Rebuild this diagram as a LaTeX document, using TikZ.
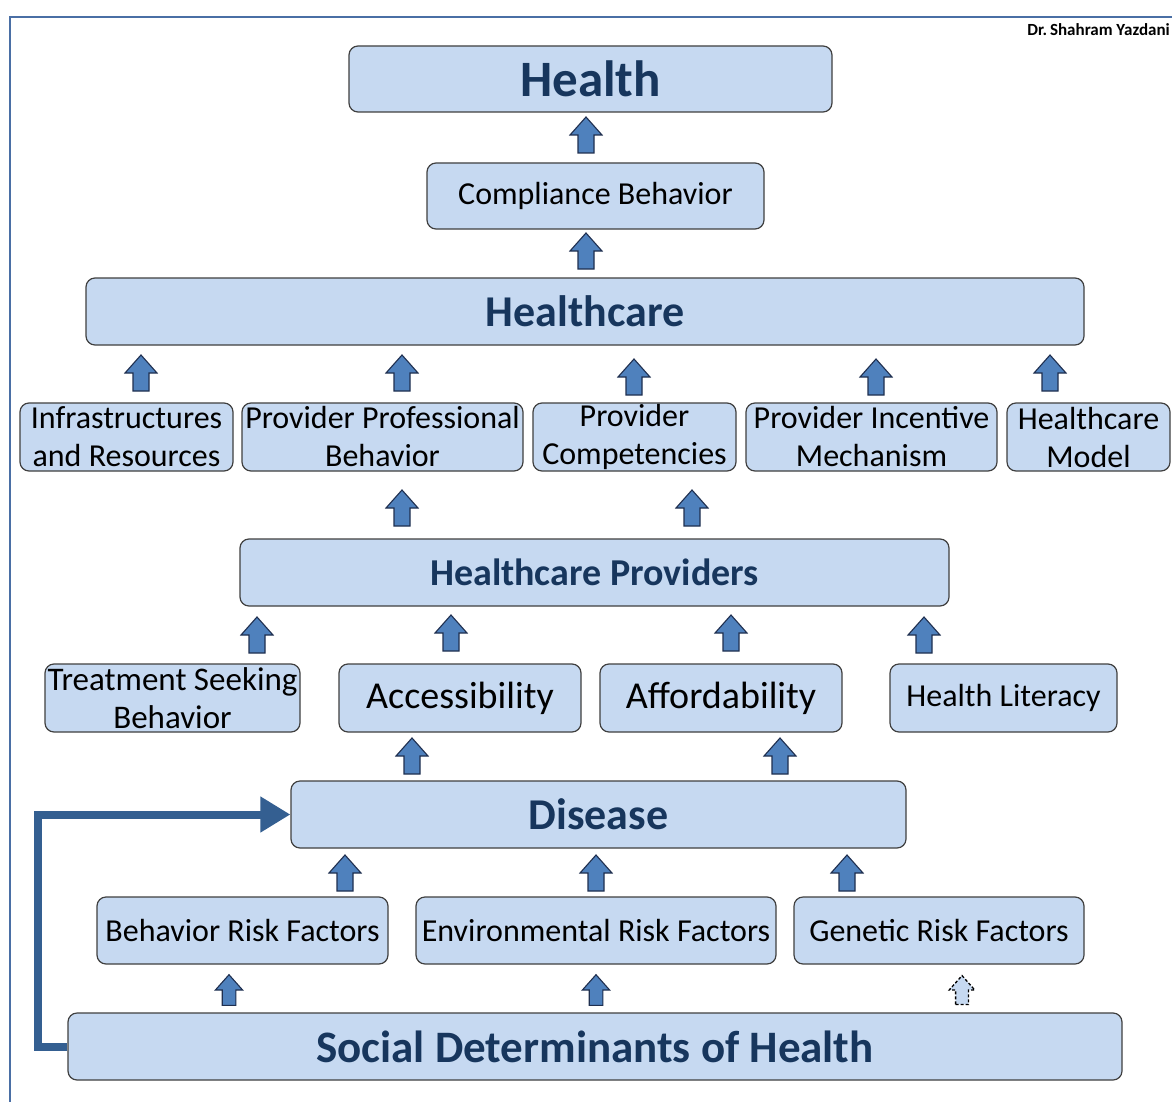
\documentclass[tikz,border=0pt]{standalone}
\usepackage{fontspec}
\setmainfont{Carlito}
\usetikzlibrary{arrows.meta}
\definecolor{boxfill}{RGB}{198,217,241}
\definecolor{boxline}{RGB}{64,64,64}
\definecolor{titlecol}{RGB}{23,54,93}
\definecolor{arrfill}{RGB}{79,129,189}
\definecolor{arrline}{RGB}{31,47,79}
\definecolor{conncol}{RGB}{52,95,145}
\definecolor{framecol}{RGB}{74,111,165}
\tikzset{
  box/.style={draw=boxline, fill=boxfill, rounded corners=9pt, line width=1.2pt, inner sep=0pt, align=center},
  sz/.style 2 args={minimum width=#1pt, minimum height=#2pt},
  ttl/.style={text=titlecol, font=\bfseries\fontsize{#1}{#1}\selectfont},
  reg/.style={text=black, font=\fontsize{#1}{38}\selectfont},
  uparr/.pic={\draw[fill=arrfill, draw=arrline, line width=1.1pt, line join=miter]
     (-8,18) -- (-8,0) -- (-16,0) -- (0,-18) -- (16,0) -- (8,0) -- (8,18) -- cycle;},
  dasharr/.pic={\draw[fill=boxfill, draw=black, line width=1.3pt, dashed, dash pattern=on 3pt off 2pt]
     (-8,18) -- (-8,0) -- (-16,0) -- (0,-18) -- (16,0) -- (8,0) -- (8,18) -- cycle;},
  conn/.style={draw=conncol, line width=8pt, -{Triangle[length=30pt,width=34pt]}}
}
\begin{document}
\begin{tikzpicture}[x=1pt,y=-1pt]
\useasboundingbox (0,0) rectangle (1172,1102);
\fill[white] (0,0) rectangle (1172,1102);
% frame
\draw[framecol, line width=2.5pt] (10,1102) -- (10,17) -- (1172,17);
\node[anchor=east, font=\bfseries\fontsize{17}{17}\selectfont, inner sep=0pt] (author) at (1170,30) {Dr.\,Shahram Yazdani};

% boxes
\node[box, sz={483}{66}, ttl=51] (health) at (590.5,79) {Health};
\node[box, sz={337}{66}, reg=32] (compliance) at (595.5,196) {Compliance Behavior};
\node[box, sz={998}{67}, ttl=44] (healthcare) at (585,311.5) {Healthcare};

\node[box, sz={213}{68}, reg=32] (infra) at (126.5,437) {Infrastructures\\and Resources};
\node[box, sz={281}{68}, reg=32] (ppb) at (382.5,437) {Provider Professional\\Behavior};
\node[box, sz={203}{68}, reg=32] (pc) at (634.5,437) {Provider\\Competencies};
\node[box, sz={251}{68}, reg=32] (pim) at (871.5,437) {Provider Incentive\\Mechanism};
\node[box, sz={163}{68}, reg=32] (hm) at (1088.5,437) {Healthcare\\Model};

\node[box, sz={709}{67}, ttl=38] (hp) at (594.5,572.5) {Healthcare Providers};

\node[box, sz={255}{68}, reg=33] (tsb) at (172.5,698) {Treatment Seeking\\Behavior};
\node[box, sz={242}{68}, reg=38] (acc) at (460,698) {Accessibility};
\node[box, sz={242}{68}, reg=38] (aff) at (721,698) {Affordability};
\node[box, sz={227}{68}, reg=32] (hl) at (1003.5,698) {Health Literacy};

\node[box, sz={615}{67}, ttl=44] (disease) at (598.5,814.5) {Disease};

\node[box, sz={291}{67}, reg=32] (brf) at (242.5,930.5) {Behavior Risk Factors};
\node[box, sz={360}{67}, reg=32] (erf) at (596,930.5) {Environmental Risk Factors};
\node[box, sz={290}{67}, reg=32] (grf) at (939,930.5) {Genetic Risk Factors};

\node[box, sz={1054}{67}, ttl=45] (sdh) at (595,1046.5) {Social Determinants of Health};

% block arrows
\pic at (586,135) {uparr};
\pic at (586,251) {uparr};
\pic at (141,373) {uparr};
\pic at (402,373) {uparr};
\pic at (634,377) {uparr};
\pic at (876,377) {uparr};
\pic at (1050,373) {uparr};
\pic at (402,508) {uparr};
\pic at (692,508) {uparr};
\pic at (257,635) {uparr};
\pic at (451,633) {uparr};
\pic at (731,633) {uparr};
\pic at (924,635) {uparr};
\pic at (412,756) {uparr};
\pic at (780,756) {uparr};
\pic at (345,873) {uparr};
\pic at (596,873) {uparr};
\pic at (847,873) {uparr};
\pic[scale=0.85] at (229,990) {uparr};
\pic[scale=0.85] at (596,990) {uparr};
\pic[scale=0.8] at (962,990) {dasharr};

% feedback connector
\draw[conn] (sdh.west) -- (38,1046.5) |- (disease.west);
\end{tikzpicture}
\end{document}
